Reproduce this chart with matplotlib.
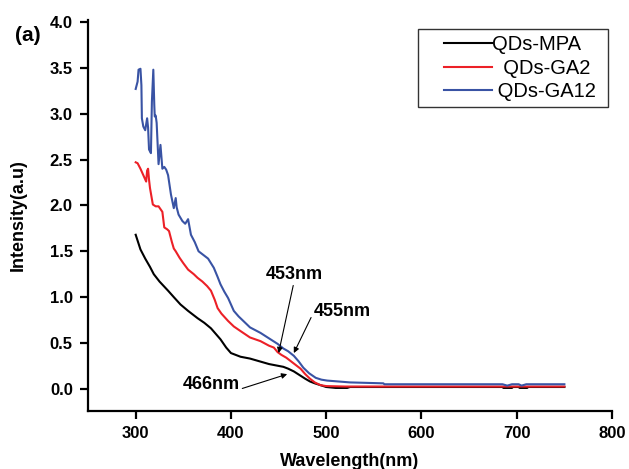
import matplotlib
matplotlib.use("Agg")
import matplotlib.pyplot as plt
from matplotlib.legend_handler import HandlerLine2D

plt.rcParams["font.family"] = ["Liberation Sans", "DejaVu Sans"]

# QDs-MPA
wl_mpa = [300, 305, 310, 315, 319, 325, 334, 340, 347, 355, 365, 372, 379, 389,
          395, 400, 410, 420, 430, 440, 450, 455, 460, 466, 472, 478, 483, 488,
          494, 500, 510, 522, 525, 560, 600, 650, 685, 686, 695, 696, 702, 703,
          711, 712, 750]
int_mpa = [1.68, 1.52, 1.42, 1.33, 1.25, 1.17, 1.07, 1.00, 0.92, 0.85, 0.77, 0.72,
           0.66, 0.54, 0.45, 0.39, 0.35, 0.33, 0.30, 0.27, 0.25, 0.24, 0.22, 0.19,
           0.15, 0.11, 0.08, 0.06, 0.04, 0.02, 0.01, 0.01, 0.02, 0.02, 0.02, 0.02,
           0.02, 0.01, 0.01, 0.02, 0.02, 0.01, 0.01, 0.02, 0.02]

# QDs-GA2
wl_ga2 = [300, 302, 305, 308, 311, 312, 313, 314, 315, 318, 321, 324, 328, 330,
          333, 335, 338, 340, 342, 346, 350, 355, 361, 365, 370, 375, 379, 383,
          386, 390, 397, 403, 410, 420, 431, 440, 445, 449, 453, 458, 463, 468,
          473, 478, 483, 488, 494, 500, 520, 750]
int_ga2 = [2.47, 2.46, 2.40, 2.33, 2.26, 2.38, 2.40, 2.28, 2.19, 2.01, 1.99, 1.99,
           1.93, 1.76, 1.74, 1.72, 1.60, 1.53, 1.50, 1.43, 1.37, 1.30, 1.25, 1.21,
           1.17, 1.12, 1.07, 0.97, 0.88, 0.82, 0.74, 0.68, 0.63, 0.56, 0.52, 0.47,
           0.45, 0.40, 0.37, 0.34, 0.30, 0.26, 0.22, 0.16, 0.11, 0.07, 0.04, 0.03,
           0.025, 0.025]

# QDs-GA12
wl_ga12 = [300, 302, 303, 305, 306, 306.5, 308, 310, 312, 313, 314, 316, 317,
           318.5, 319.5, 320, 321, 322, 324, 326, 328, 330, 332, 334, 337, 340,
           342, 343, 345, 349, 352, 355, 358, 362, 366, 371, 376, 382, 386, 389,
           393, 397, 403, 408, 413, 420, 431, 440, 449, 455, 460, 466, 471, 476,
           482, 489, 495, 501, 525, 560, 561, 685, 690, 695, 702, 705, 710, 750]
int_ga12 = [3.27, 3.35, 3.48, 3.49, 3.31, 2.95, 2.86, 2.82, 2.95, 2.85, 2.61, 2.57,
            3.13, 3.48, 3.10, 2.97, 2.98, 2.90, 2.45, 2.66, 2.40, 2.42, 2.39, 2.33,
            2.12, 1.97, 2.08, 1.98, 1.90, 1.83, 1.80, 1.85, 1.68, 1.60, 1.50, 1.46,
            1.42, 1.32, 1.22, 1.14, 1.06, 0.99, 0.85, 0.79, 0.74, 0.67, 0.61, 0.55,
            0.49, 0.44, 0.41, 0.36, 0.30, 0.23, 0.17, 0.12, 0.10, 0.09, 0.07, 0.06,
            0.05, 0.05, 0.035, 0.05, 0.05, 0.035, 0.05, 0.05]

# peak labels: (text, arrow tip, text position, arrow start on text box)
notes = [
    ("453nm", (450, 0.39), (466, 1.25), (0.5, 0.0)),
    ("455nm", (466, 0.39), (517, 0.84), (0.0, 0.5)),
    ("466nm", (459, 0.16), (379, 0.05), (1.0, 0.2)),
]

fig = plt.figure(figsize=(6.29, 4.69), dpi=100)
ax = fig.add_axes([0.140, 0.124, 0.833, 0.833])

ax.plot(wl_mpa, int_mpa, color="black", lw=1.5, label="QDs-MPA")
ax.plot(wl_ga2, int_ga2, color="#ec2027", lw=1.5, label="  QDs-GA2")
ax.plot(wl_ga12, int_ga12, color="#3953a4", lw=1.5, label=" QDs-GA12 ")

for txt, tip, pos, rel in notes:
    ax.annotate(txt, xy=tip, xytext=pos, ha="center", va="center",
                fontsize=13, fontweight="bold",
                arrowprops=dict(arrowstyle="-|>", color="black", lw=0.8,
                                mutation_scale=8, relpos=rel,
                                shrinkA=0, shrinkB=0))

ax.set_xlim(250, 800)
ax.set_ylim(-0.24, 4.02)
ax.set_xticks([300, 400, 500, 600, 700, 800])
ax.set_yticks([0.0, 0.5, 1.0, 1.5, 2.0, 2.5, 3.0, 3.5, 4.0])
ax.set_yticklabels([f"{v:.1f}" for v in ax.get_yticks()])
for s in ["top", "right"]:
    ax.spines[s].set_visible(False)
for s in ["left", "bottom"]:
    ax.spines[s].set_linewidth(1.6)
ax.tick_params(direction="out", length=6, width=1.6, labelsize=12, pad=5)
for lab in ax.get_xticklabels() + ax.get_yticklabels():
    lab.set_fontweight("bold")

ax.set_xlabel("Wavelength(nm)", fontsize=13, fontweight="bold", va="baseline")
ax.xaxis.set_label_coords(0.5, -0.1407)
ax.set_ylabel("Intensity(a.u)", fontsize=13, fontweight="bold", va="center")
ax.yaxis.set_label_coords(-0.1336, 0.5)
fig.text(0.024, 0.9126, "(a)", fontsize=15, fontweight="bold", va="baseline")

leg = ax.legend(loc="upper right", bbox_to_anchor=(0.992, 0.977), fontsize=14.5,
                handlelength=3.4, handletextpad=0.0, labelspacing=0.22,
                fancybox=False, framealpha=1, borderpad=0.3, borderaxespad=0,
                handler_map={ln: HandlerLine2D(xpad=1.0) for ln in ax.get_lines()})
leg.get_frame().set_edgecolor("#333333")
leg.get_frame().set_linewidth(1.0)

fig.savefig("out.png", dpi=100)
